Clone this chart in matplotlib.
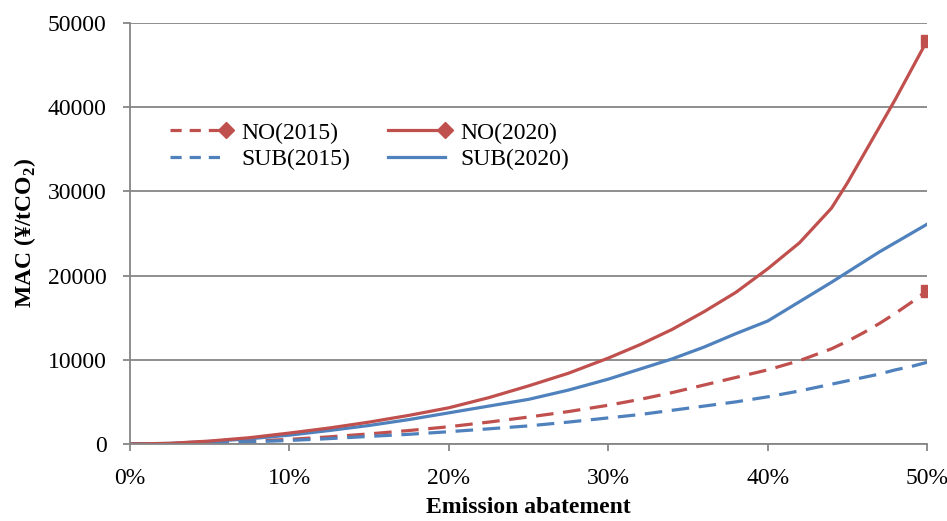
import matplotlib
matplotlib.use("Agg")
import matplotlib.pyplot as plt
from matplotlib.lines import Line2D
from matplotlib.ticker import FuncFormatter

plt.rcParams['font.family'] = ['Liberation Serif', 'DejaVu Serif']
plt.rcParams['mathtext.fontset'] = 'custom'
plt.rcParams['mathtext.rm'] = 'Liberation Serif'
plt.rcParams['mathtext.bf'] = 'Liberation Serif:bold'

# abatement share (%) and marginal abatement cost (yuan/tCO2)
abate = [0, 2.5, 5, 7.5, 10, 12.5, 15, 17.5, 20, 22.5, 25, 27.5, 30,
         32, 34, 36, 38, 40, 42, 44, 45, 46, 47, 48, 49, 50]
no_2020 = [0, 80, 350, 750, 1300, 1900, 2600, 3400, 4300, 5500, 6900, 8400, 10200,
           11800, 13600, 15700, 18000, 20800, 23900, 28000, 31000, 34300, 37600, 40900, 44400, 47900]
sub_2020 = [0, 70, 300, 620, 1050, 1600, 2200, 2900, 3700, 4500, 5300, 6400, 7700,
            8900, 10100, 11500, 13100, 14600, 16900, 19200, 20400, 21600, 22800, 23900, 25000, 26100]
no_2015 = [0, 30, 150, 330, 550, 850, 1200, 1600, 2050, 2600, 3200, 3850, 4600,
           5300, 6100, 7000, 7900, 8800, 9900, 11300, 12200, 13200, 14300, 15500, 16800, 18200]
sub_2015 = [0, 25, 120, 250, 420, 640, 900, 1150, 1460, 1800, 2150, 2600, 3100,
            3500, 4000, 4500, 5000, 5600, 6300, 7100, 7500, 7900, 8300, 8800, 9200, 9700]

red = '#c0504d'
blue = '#4f81bd'
grid_c = '#868686'
lw = 2.3
dash = (5.5, 3)

fig = plt.figure(figsize=(9.47, 5.21), dpi=100)
ax = fig.add_axes([0.1373, 0.1478, 0.8417, 0.8083])

x = [a / 100 for a in abate]
ax.plot(x, no_2015, color=red, lw=lw, dashes=dash)
ax.plot(x, sub_2015, color=blue, lw=lw, dashes=dash)
ax.plot(x, sub_2020, color=blue, lw=lw)
ax.plot(x, no_2020, color=red, lw=lw)
# end markers
ax.plot(x[-1], no_2015[-1], marker='s', ms=8, color=red, ls='none')
ax.plot(x[-1], no_2020[-1], marker='s', ms=8, color=red, ls='none')

ax.set_xlim(0, 0.5)
ax.set_ylim(0, 50000)
ax.set_xticks([0, 0.1, 0.2, 0.3, 0.4, 0.5])
ax.xaxis.set_major_formatter(FuncFormatter(lambda v, p: f"{v*100:.0f}%"))
ax.set_yticks(range(0, 50001, 10000))
ax.yaxis.grid(True, color=grid_c, lw=1.3)
ax.set_axisbelow(True)

for s in ['top', 'right']:
    ax.spines[s].set_visible(False)
for s in ['left', 'bottom']:
    ax.spines[s].set_color(grid_c)
    ax.spines[s].set_linewidth(1.3)
ax.tick_params(axis='both', colors=grid_c, labelcolor='black', labelsize=17, length=5, width=1.3)
ax.tick_params(axis='x', pad=12)
ax.tick_params(axis='y', pad=12)

ax.set_xlabel("Emission abatement", fontsize=17, fontweight='bold', labelpad=6)
ax.set_ylabel("MAC (¥/tCO$_\\mathbf{2}$)", fontsize=17, fontweight='bold', labelpad=7)

handles = [
    Line2D([], [], color=red, lw=lw, dashes=(3.5, 2.5), marker='D', ms=8),
    Line2D([], [], color=blue, lw=lw, dashes=(3.5, 2.5)),
    Line2D([], [], color=red, lw=lw, marker='D', ms=8),
    Line2D([], [], color=blue, lw=lw),
]
labels = ["NO(2015)", "SUB(2015)", "NO(2020)", "SUB(2020)"]
leg = ax.legend(handles, labels, ncol=2, frameon=False, fontsize=17, loc='upper left',
                bbox_to_anchor=(0.014, 0.815), handlelength=3.0, handletextpad=0.35,
                columnspacing=1.3, labelspacing=0.2, numpoints=2)
# diamond only at the right end of the legend line
for ln in leg.get_lines():
    ln.set_markevery([1])

fig.savefig("out.png", dpi=100)
